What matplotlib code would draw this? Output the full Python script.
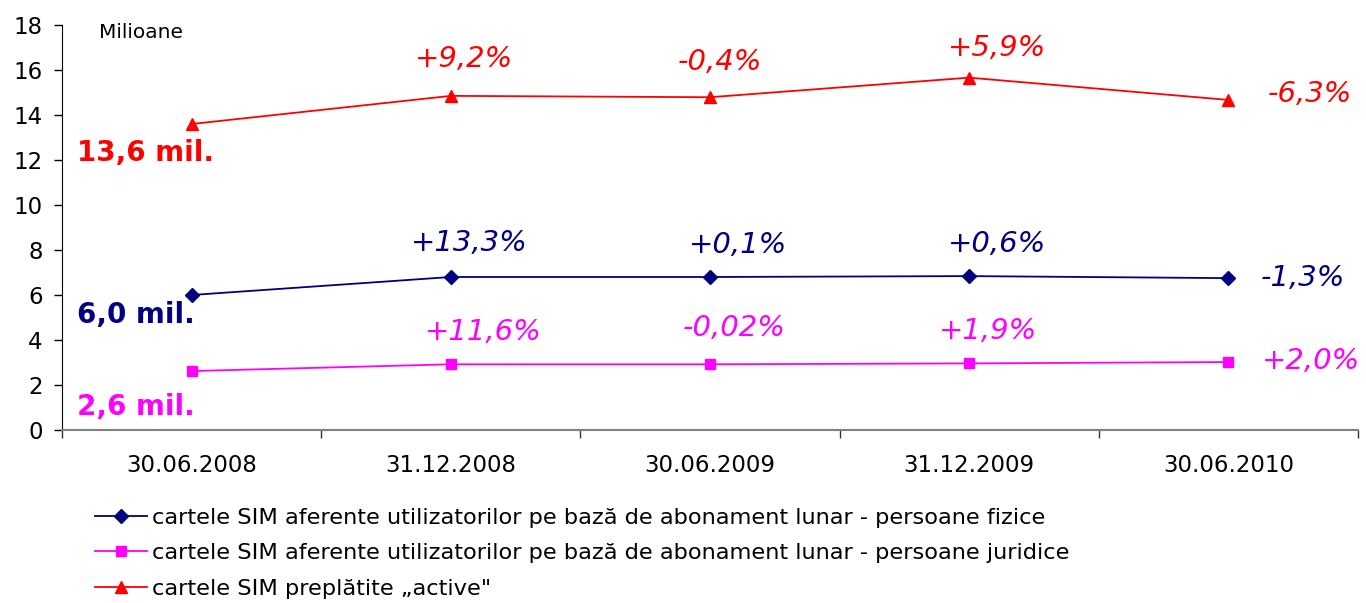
import matplotlib
matplotlib.use("Agg")
import matplotlib.pyplot as plt

plt.rcParams['font.family'] = ['DejaVu Sans']

categories = ["30.06.2008", "31.12.2008", "30.06.2009", "31.12.2009", "30.06.2010"]
fizice = [6.0, 6.8, 6.8, 6.84, 6.75]
juridice = [2.62, 2.92, 2.92, 2.96, 3.02]
preplatite = [13.6, 14.85, 14.79, 15.66, 14.67]

pct_fizice = ["+13,3%", "+0,1%", "+0,6%", "-1,3%"]
pct_juridice = ["+11,6%", "-0,02%", "+1,9%", "+2,0%"]
pct_preplatite = ["+9,2%", "-0,4%", "+5,9%", "-6,3%"]

start_labels = ["6,0 mil.", "2,6 mil.", "13,6 mil."]
legend_labels = [
    "cartele SIM aferente utilizatorilor pe bază de abonament lunar - persoane fizice",
    "cartele SIM aferente utilizatorilor pe bază de abonament lunar - persoane juridice",
    "cartele SIM preplătite „active\"",
]

NAVY = "#000080"
MAG = "#FF00FF"
RED = "#FF0000"

fig = plt.figure(figsize=(13.66, 6.03), dpi=100)
ax = fig.add_axes([62/1366, 1-430/603, (1358-62)/1366, (430-25)/603])

x = list(range(len(categories)))
l1, = ax.plot(x, fizice, color=NAVY, lw=1.3, marker='D', ms=7.5, label=legend_labels[0])
l2, = ax.plot(x, juridice, color=MAG, lw=1.3, marker='s', ms=7.5, label=legend_labels[1])
l3, = ax.plot(x, preplatite, color=RED, lw=1.3, marker='^', ms=9, label=legend_labels[2])

ax.set_xlim(-0.5, 4.5)
ax.set_ylim(0, 18)
ax.set_yticks(range(0, 19, 2))
ax.set_xticks([i - 0.5 for i in range(6)])
ax.set_xticklabels([])
ax.set_xticks(x, minor=True)
ax.set_xticklabels(categories, minor=True)
ax.tick_params(axis='x', which='minor', length=0, pad=17, labelsize=16.5)
ax.tick_params(axis='x', which='major', length=6, width=1, color='#333333', direction='out')
ax.tick_params(axis='y', length=6, width=1, direction='out', labelsize=16.5, pad=8)
for s in ['top', 'right']:
    ax.spines[s].set_visible(False)
ax.spines['bottom'].set_color('#808080')
ax.spines['bottom'].set_linewidth(1.5)
ax.spines['left'].set_color('black')

ax.text((99-62)/(1358-62), (430-33)/(430-25), "Milioane", transform=ax.transAxes,
        fontsize=14.5, va='center', ha='left')

# percentage labels (offsets in pixels)
off_red = [(13, 37), (10, 35), (28, 30), (81, 6)]
off_blue = [(18, 34), (28, 32), (28, 32), (74, 0)]
off_mag = [(32, 32), (24, 36), (19, 32), (83, 1)]
for series, labels, offs, col in [(preplatite, pct_preplatite, off_red, RED),
                                  (fizice, pct_fizice, off_blue, NAVY),
                                  (juridice, pct_juridice, off_mag, MAG)]:
    for i, (lab, off) in enumerate(zip(labels, offs)):
        ax.annotate(lab, (x[i + 1], series[i + 1]), xytext=off, textcoords='offset pixels',
                    ha='center', va='center', fontsize=21, style='italic', color=col)

# starting value labels
for series, lab, off, col in [(fizice, start_labels[0], (-115, -20), NAVY),
                              (juridice, start_labels[1], (-115, -36), MAG),
                              (preplatite, start_labels[2], (-115, -29), RED)]:
    ax.annotate(lab, (x[0], series[0]), xytext=off, textcoords='offset pixels',
                ha='left', va='center', fontsize=20, fontweight='bold', color=col)

fig.legend(handles=[l1, l2, l3], loc='upper left', bbox_to_anchor=(95/1366, 1-508/603),
           frameon=False, fontsize=16.2, handlelength=2.3, handletextpad=0.25,
           labelspacing=0.68, borderaxespad=0, borderpad=0)

fig.savefig("out.png", dpi=100)
